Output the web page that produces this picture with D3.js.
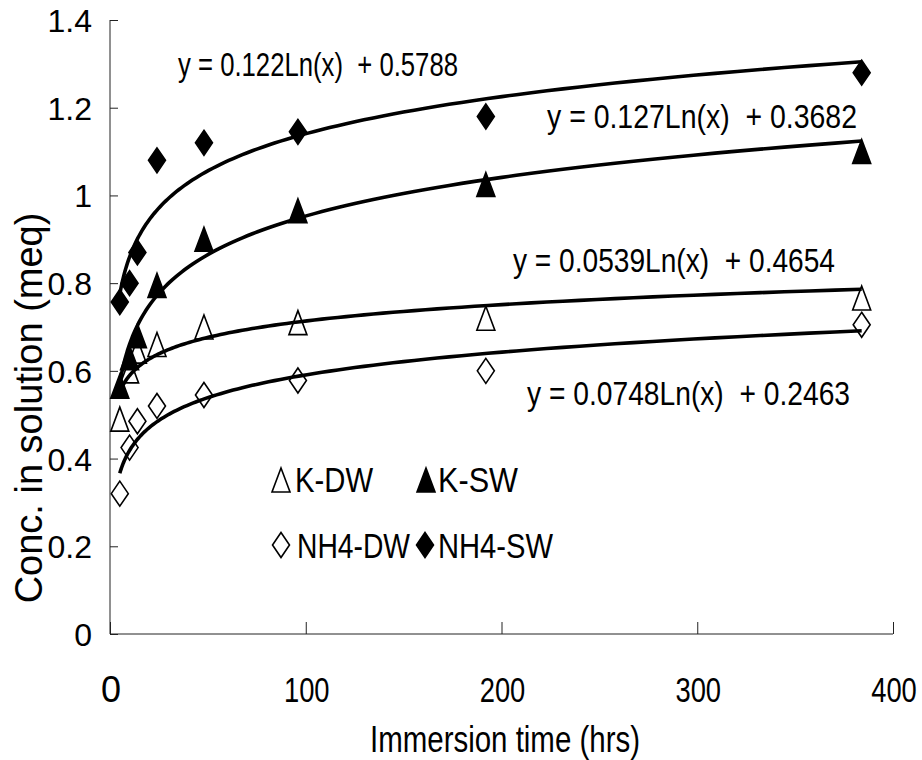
<!DOCTYPE html>
<html>
<head>
<meta charset="utf-8">
<script src="https://cdn.jsdelivr.net/npm/d3@7"></script>
<style>
  body { margin: 0; background: #fff; }
  text { font-family: "Liberation Sans", Arial, sans-serif; fill: #000; }
</style>
</head>
<body>
<svg id="chart" width="922" height="760"></svg>
<script>
// immersion times (hrs)
let hours = [5, 10, 14, 24, 48, 96, 192, 384];

let kDW   = [0.49, 0.60, 0.645, 0.66, 0.70, 0.71, 0.72, 0.766];
let kSW   = [0.565, 0.63, 0.68, 0.795, 0.90, 0.965, 1.025, 1.10];
let nh4DW = [0.32, 0.425, 0.485, 0.52, 0.545, 0.578, 0.60, 0.705];
let nh4SW = [0.757, 0.80, 0.87, 1.08, 1.12, 1.145, 1.18, 1.28];

let seriesNames = ["K-DW", "K-SW", "NH4-DW", "NH4-SW"];
// log trendlines y = a Ln(x) + b, as printed on the chart
let slopes = [0.0539, 0.127, 0.0748, 0.122];
let intercepts = [0.4654, 0.3682, 0.2463, 0.5788];
let eqLabels = [
  "y = 0.0539Ln(x)  + 0.4654",
  "y = 0.127Ln(x)  + 0.3682",
  "y = 0.0748Ln(x)  + 0.2463",
  "y = 0.122Ln(x)  + 0.5788"
];

let xTicks = [0, 100, 200, 300, 400];
let yTicks = [0, 0.2, 0.4, 0.6, 0.8, 1, 1.2, 1.4];

let svg = d3.select("#chart");

let x = d3.scaleLinear().domain([0, 400]).range([110, 893]);
let y = d3.scaleLinear().domain([0, 1.4]).range([634, 20]);

// axes
let xAxis = d3.axisBottom(x).tickValues(xTicks).tickSize(-12).tickFormat("");
let yAxis = d3.axisLeft(y).tickValues(yTicks).tickSize(-8).tickFormat("");

svg.append("g")
  .attr("transform", "translate(0,634)")
  .call(xAxis)
  .call(g => g.select(".domain").attr("d", "M110,0H893"));
svg.append("g")
  .attr("transform", "translate(110,0)")
  .call(yAxis)
  .call(g => g.select(".domain").attr("d", "M0,20V634"));
svg.selectAll(".domain, .tick line").attr("stroke", "#222").attr("stroke-width", 1);

svg.append("g").selectAll("text")
  .data(yTicks)
  .enter()
  .append("text")
  .attr("x", 92)
  .attr("y", d => y(d) + 12)
  .attr("text-anchor", "end")
  .attr("font-size", 32)
  .text(d => d);

// condensed tick labels
svg.append("g").selectAll("text")
  .data(xTicks)
  .enter()
  .append("text")
  .attr("transform", d => "translate(" + (x(d) + 1) + ",702) scale(" + (d === 0 ? 1 : 0.76) + ",1)")
  .attr("text-anchor", "middle")
  .attr("font-size", 36)
  .text(d => d);

svg.append("text")
  .attr("x", 505)
  .attr("y", 752)
  .attr("text-anchor", "middle")
  .attr("font-size", 36)
  .attr("textLength", 270)
  .attr("lengthAdjust", "spacingAndGlyphs")
  .text("Immersion time (hrs)");

svg.append("text")
  .attr("transform", "translate(42,408) rotate(-90)")
  .attr("text-anchor", "middle")
  .attr("font-size", 38)
  .text("Conc. in solution (meq)");

// markers
let triPath = "M0,-12L9,12L-9,12Z";
let diaPath = "M0,-12.5L8.5,0L0,12.5L-8.5,0Z";
let markerStyle = [
  { path: triPath, fill: "#fff" },
  { path: triPath, fill: "#000" },
  { path: diaPath, fill: "#fff" },
  { path: diaPath, fill: "#000" }
];
let allSeries = [kDW, kSW, nh4DW, nh4SW];

allSeries.forEach((vals, i) => {
  svg.append("g").selectAll("path")
    .data(vals)
    .enter()
    .append("path")
    .attr("d", markerStyle[i].path)
    .attr("transform", (d, j) => "translate(" + x(hours[j]) + "," + y(d) + ")")
    .attr("fill", markerStyle[i].fill)
    .attr("stroke", "#000")
    .attr("stroke-width", 1.6);
});

// trendlines
let tSteps = d3.range(0, 121).map(k => hours[0] * Math.pow(hours[hours.length - 1] / hours[0], k / 120));
let line = d3.line().x(d => x(d[0])).y(d => y(d[1]));
slopes.forEach((a, i) => {
  svg.append("path")
    .datum(tSteps.map(t => [t, a * Math.log(t) + intercepts[i]]))
    .attr("d", line)
    .attr("fill", "none")
    .attr("stroke", "#000")
    .attr("stroke-width", 3.6)
    .attr("stroke-linejoin", "round");
});

// equation labels
let eqPos = [[513, 272, 322], [547, 128, 310], [527, 405, 323], [178, 76, 280]];
svg.append("g").selectAll("text")
  .data(eqLabels)
  .enter()
  .append("text")
  .attr("x", (d, i) => eqPos[i][0])
  .attr("y", (d, i) => eqPos[i][1])
  .attr("font-size", 33)
  .attr("textLength", (d, i) => eqPos[i][2])
  .attr("lengthAdjust", "spacingAndGlyphs")
  .attr("xml:space", "preserve")
  .text(d => d);

// legend
let legPos = [[281, 480, 295, 492, 78], [426, 480, 438, 492, 80], [281, 545, 297, 558, 113], [425, 545, 438, 558, 115]];
seriesNames.forEach((name, i) => {
  let p = legPos[i];
  svg.append("path")
    .attr("d", markerStyle[i].path)
    .attr("transform", "translate(" + p[0] + "," + p[1] + ")")
    .attr("fill", markerStyle[i].fill)
    .attr("stroke", "#000")
    .attr("stroke-width", 1.6);
  svg.append("text")
    .attr("x", p[2])
    .attr("y", p[3])
    .attr("font-size", 35)
    .attr("textLength", p[4])
    .attr("lengthAdjust", "spacingAndGlyphs")
    .text(name);
});
</script>
</body>
</html>
